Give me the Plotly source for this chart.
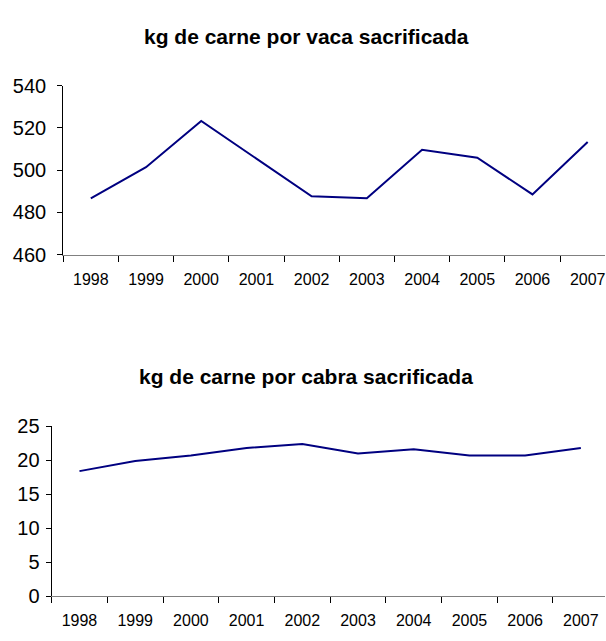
import plotly.graph_objects as go

years = ["1998", "1999", "2000", "2001", "2002", "2003", "2004", "2005", "2006", "2007"]
vaca_kg = [486.6, 501.4, 523.3, 505.4, 487.6, 486.7, 509.6, 505.9, 488.5, 513.3]
cabra_kg = [18.4, 19.9, 20.7, 21.8, 22.4, 21.0, 21.6, 20.7, 20.7, 21.8]

title_top = "kg de carne por vaca sacrificada"
title_bottom = "kg de carne por cabra sacrificada"

W, H = 606, 641
FONT = "Liberation Sans, Arial, sans-serif"
LINE = "#000080"

def fy(px):
    return (H - px) / H

fig = go.Figure()
fig.add_trace(go.Scatter(x=years, y=vaca_kg, mode="lines", line=dict(color=LINE, width=2),
                         xaxis="x", yaxis="y", showlegend=False))
fig.add_trace(go.Scatter(x=years, y=cabra_kg, mode="lines", line=dict(color=LINE, width=2),
                         xaxis="x2", yaxis="y2", showlegend=False))

top_left, top_cat = 63.3, 55.3
bot_left, bot_cat = 51.7, 55.8

common_x = dict(type="category", tickson="boundaries", ticks="outside", ticklen=6,
                tickcolor="#000000", showline=True, linecolor="#808080", linewidth=1,
                showgrid=False, zeroline=False, tickfont=dict(size=16, color="#000000", family=FONT),
                ticklabelstandoff=10, fixedrange=True)
common_y = dict(ticks="outside", ticklen=5, tickcolor="#000000", showline=True,
                linecolor="#000000", linewidth=1, showgrid=False, zeroline=False,
                tickfont=dict(size=20, color="#000000", family=FONT), fixedrange=True)

fig.update_layout(
    width=W, height=H, autosize=False,
    margin=dict(l=0, r=0, t=0, b=0),
    paper_bgcolor="white", plot_bgcolor="white",
    font=dict(family=FONT, color="#000000"),
    xaxis=dict(common_x, domain=[top_left / W, 1],
               range=[-0.5, -0.5 + (W - top_left) / top_cat], anchor="y"),
    yaxis=dict(common_y, domain=[fy(252.3), fy(77.3)], range=[460, 540], dtick=20,
               tick0=460, anchor="x", ticklabelstandoff=7),
    xaxis2=dict(common_x, domain=[bot_left / W, 1],
                range=[-0.5, -0.5 + (W - bot_left) / bot_cat], anchor="y2"),
    yaxis2=dict(common_y, domain=[fy(606), fy(430)], range=[0, 25], dtick=5,
                tick0=0, anchor="x2", ticklabelstandoff=2),
    annotations=[
        dict(text="<b>%s</b>" % title_top, x=307 / W, y=fy(26), xref="paper", yref="paper",
             xanchor="center", yanchor="middle", showarrow=False,
             font=dict(size=21, color="#000000", family=FONT)),
        dict(text="<b>%s</b>" % title_bottom, x=307 / W, y=fy(378), xref="paper", yref="paper",
             xanchor="center", yanchor="middle", showarrow=False,
             font=dict(size=21, color="#000000", family=FONT)),
    ],
)

fig.write_html("out.html", config=dict(displayModeBar=False),
               post_script="document.body.style.margin='0';document.body.style.overflow='hidden';")
